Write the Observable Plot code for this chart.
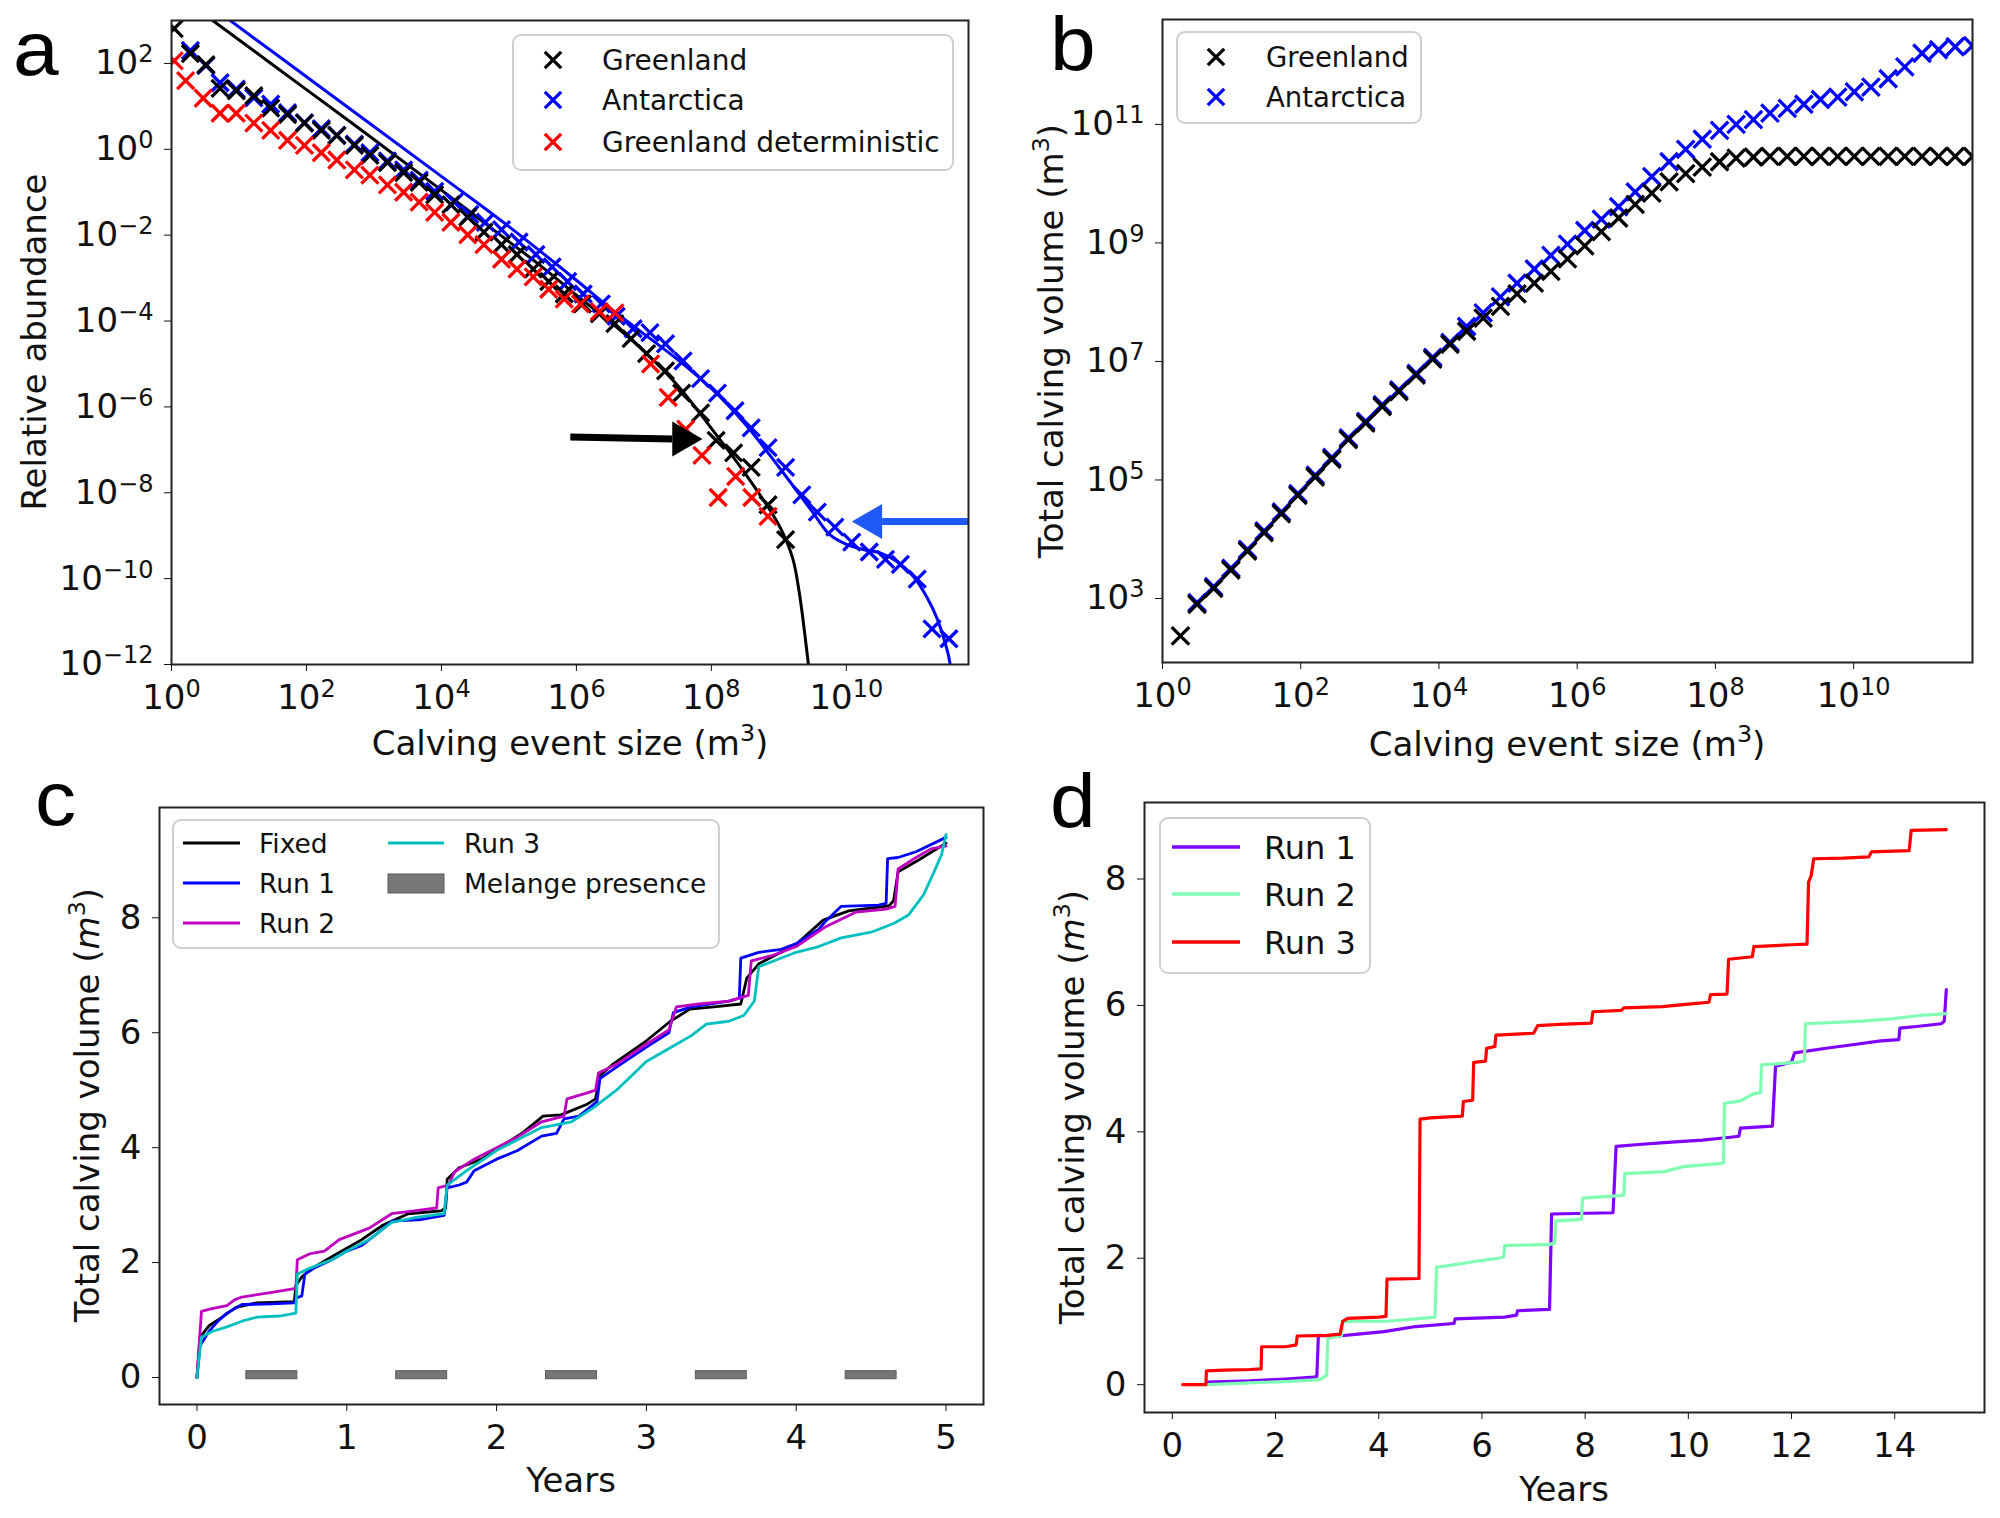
<!DOCTYPE html>
<html><head><meta charset="utf-8">
<script src="https://cdn.jsdelivr.net/npm/d3@7"></script>
<script src="https://cdn.jsdelivr.net/npm/@observablehq/plot@0.6"></script>
<style>
body{margin:0;background:#fff;}
#fig{position:relative;width:2000px;height:1518px;background:#fff;font-family:"DejaVu Sans",sans-serif;}
</style></head><body><div id="fig"></div>
<script>
// ---------------- Panel a: relative abundance (log10 values) ----------------
const aGreenlandLogX = [0.04,0.28,0.51,0.72,0.96,1.22,1.47,1.72,1.97,2.22,2.45,2.71,2.94,3.20,3.44,3.67,3.90,4.14,4.39,4.63,4.89,5.12,5.36,5.59,5.82,6.09,6.34,6.57,6.81,7.04,7.32,7.56,7.84,8.07,8.33,8.59,8.84,9.10];
const aGreenlandLogY = [2.81,2.23,1.97,1.42,1.36,1.25,0.96,0.81,0.61,0.44,0.32,0.09,-0.14,-0.31,-0.54,-0.77,-1.06,-1.29,-1.58,-1.93,-2.22,-2.45,-2.79,-3.08,-3.37,-3.60,-3.83,-4.06,-4.41,-4.76,-5.16,-5.68,-6.14,-6.78,-7.07,-7.41,-8.28,-9.09];
const aAntLogX = [0.28,0.51,0.72,0.96,1.22,1.47,1.72,1.97,2.22,2.45,2.71,2.94,3.20,3.44,3.67,3.90,4.19,4.42,4.65,4.89,5.15,5.40,5.64,5.87,6.10,6.37,6.59,6.84,7.09,7.32,7.58,7.84,8.09,8.35,8.59,8.84,9.10,9.34,9.57,9.83,10.08,10.34,10.58,10.80,11.05,11.27,11.52];
const aAntLogY = [2.30,1.95,1.55,1.40,1.20,1.05,0.85,0.62,0.48,0.33,0.12,-0.08,-0.27,-0.48,-0.72,-0.98,-1.23,-1.52,-1.70,-1.87,-2.16,-2.45,-2.74,-3.08,-3.37,-3.60,-3.89,-4.18,-4.27,-4.53,-4.93,-5.34,-5.68,-6.09,-6.49,-6.95,-7.41,-8.05,-8.45,-8.80,-9.15,-9.38,-9.55,-9.67,-10.01,-11.17,-11.40];
const aDetLogX = [0.04,0.21,0.47,0.72,0.96,1.22,1.47,1.72,1.97,2.22,2.45,2.71,2.94,3.20,3.44,3.67,3.90,4.14,4.39,4.63,4.89,5.12,5.36,5.59,5.82,6.06,6.34,6.57,7.10,7.36,7.62,7.86,8.10,8.36,8.60,8.84];
const aDetLogY = [2.06,1.60,1.19,0.84,0.84,0.61,0.44,0.21,0.09,-0.08,-0.25,-0.48,-0.60,-0.83,-1.00,-1.23,-1.47,-1.70,-1.99,-2.22,-2.56,-2.79,-2.97,-3.26,-3.49,-3.60,-3.78,-3.81,-5.00,-5.78,-6.52,-7.13,-8.11,-7.62,-8.11,-8.55];
const aFitGreenlandLogX = [0.61,2,3,4,5,5.5,6,6.5,7,7.5,8,8.5,9,9.2,9.3,9.4,9.46];
const aFitGreenlandLogY = [3.0,1.39,0.23,-0.95,-2.15,-2.75,-3.40,-4.02,-4.70,-5.50,-6.50,-7.55,-8.75,-9.50,-10.30,-11.50,-12.30];
const aFitAntLogX = [0.87,2,4,5,6,6.5,7,7.5,8,8.5,9,9.5,9.75,10,10.25,10.5,10.75,11,11.2,11.35,11.5,11.57];
const aFitAntLogY = [3.0,1.69,-0.63,-1.80,-3.05,-3.70,-4.30,-4.90,-5.57,-6.40,-7.40,-8.45,-8.97,-9.20,-9.32,-9.40,-9.60,-9.96,-10.45,-10.95,-11.70,-12.30];
const aArrowTailLogX = [5.91, 12.1];
const aArrowTailLogY = [-6.70, -8.67];
const aArrowBaseLogX = [7.42, 10.53];
const aArrowHeadLogY = [-6.75, -8.67];
const aArrowColor = ["#000000", "#1f5af6"];
const aArrowRotate = [90, -90];
const aXDomainExp = [0, 11.81];
const aYDomainExp = [-12, 3];
const aXTickExp = [0, 2, 4, 6, 8, 10];
const aYTickExp = [-12, -10, -8, -6, -4, -2, 0, 2];
const aLegendNames = ["Greenland", "Antarctica", "Greenland deterministic"];
const aLegendColors = ["#000000", "#0000ff", "#ff0000"];

// ---------------- Panel b: total calving volume (log10 values) ----------------
const bGreenlandLogX = [0.26,0.50,0.74,0.99,1.23,1.47,1.72,1.96,2.21,2.45,2.69,2.94,3.18,3.42,3.67,3.91,4.16,4.40,4.64,4.89,5.13,5.38,5.62,5.86,6.11,6.35,6.60,6.84,7.08,7.33,7.57,7.81,8.06,8.30,8.55,8.79,9.04,9.28,9.52,9.77,10.01,10.25,10.50,10.74,10.99,11.23,11.47,11.72];
const bGreenlandLogY = [2.37,2.90,3.17,3.48,3.80,4.11,4.43,4.74,5.05,5.35,5.68,5.96,6.24,6.49,6.77,7.04,7.29,7.51,7.73,7.93,8.14,8.32,8.52,8.73,8.95,9.19,9.42,9.65,9.84,10.03,10.17,10.28,10.37,10.43,10.45,10.46,10.46,10.46,10.46,10.46,10.46,10.46,10.46,10.46,10.46,10.46,10.46,10.46];
const bAntLogX = [0.50,0.74,0.99,1.23,1.47,1.72,1.96,2.21,2.45,2.69,2.94,3.18,3.42,3.67,3.91,4.16,4.40,4.64,4.89,5.13,5.38,5.62,5.86,6.11,6.35,6.60,6.84,7.08,7.33,7.57,7.81,8.06,8.30,8.55,8.79,9.04,9.28,9.52,9.77,10.01,10.25,10.50,10.74,10.99,11.23,11.47,11.72];
const bAntLogY = [2.93,3.20,3.51,3.83,4.14,4.46,4.77,5.08,5.38,5.71,5.99,6.27,6.52,6.80,7.07,7.32,7.59,7.82,8.09,8.32,8.56,8.79,8.98,9.21,9.40,9.61,9.86,10.12,10.37,10.58,10.75,10.90,11.00,11.08,11.19,11.27,11.34,11.42,11.46,11.55,11.63,11.77,11.97,12.20,12.26,12.31,12.33];
const bXDomainExp = [0, 11.72];
const bYDomainExp = [1.92, 12.77];
const bXTickExp = [0, 2, 4, 6, 8, 10];
const bYTickExp = [3, 5, 7, 9, 11];
const bLegendNames = ["Greenland", "Antarctica"];
const bLegendColors = ["#000000", "#0000ff"];

// ---------------- Panel c: cumulative calving volume, 5 years ----------------
const cFixed = [[0,0],[0.02,0.7],[0.08,0.9],[0.14,1.0],[0.26,1.22],[0.4,1.3],[0.65,1.32],[0.66,1.6],[0.7,1.75],[0.77,1.9],[0.9,2.1],[1.0,2.25],[1.1,2.4],[1.24,2.65],[1.41,2.85],[1.63,2.9],[1.66,2.95],[1.67,3.45],[1.75,3.65],[1.9,3.8],[2.0,3.97],[2.18,4.27],[2.31,4.55],[2.43,4.57],[2.6,4.75],[2.66,4.85],[2.69,5.25],[2.77,5.44],[3.0,5.86],[3.16,6.2],[3.29,6.41],[3.45,6.45],[3.63,6.5],[3.67,6.95],[3.75,7.2],[4.0,7.54],[4.18,7.96],[4.35,8.12],[4.62,8.21],[4.65,8.3],[4.68,8.8],[4.82,9.01],[5.0,9.3]];
const cRun1 = [[0,0],[0.02,0.55],[0.08,0.8],[0.14,0.98],[0.2,1.12],[0.3,1.27],[0.5,1.28],[0.65,1.3],[0.66,1.38],[0.7,1.42],[0.72,1.8],[0.78,1.9],[0.9,2.05],[1.0,2.2],[1.1,2.3],[1.2,2.5],[1.3,2.72],[1.5,2.75],[1.65,2.82],[1.67,3.3],[1.75,3.35],[1.8,3.4],[1.85,3.6],[2.0,3.8],[2.14,3.95],[2.3,4.2],[2.4,4.25],[2.45,4.5],[2.55,4.55],[2.67,4.8],[2.69,5.2],[2.8,5.4],[3.0,5.75],[3.15,6.0],[3.18,6.35],[3.3,6.45],[3.55,6.55],[3.62,6.6],[3.63,7.3],[3.75,7.4],[3.9,7.45],[4.0,7.55],[4.15,7.8],[4.2,7.95],[4.3,8.2],[4.55,8.22],[4.6,8.25],[4.61,9.03],[4.68,9.05],[4.8,9.15],[5.0,9.4]];
const cRun2 = [[0,0],[0.03,1.15],[0.1,1.2],[0.2,1.25],[0.25,1.35],[0.3,1.4],[0.5,1.48],[0.66,1.55],[0.67,2.05],[0.75,2.15],[0.85,2.2],[0.95,2.4],[1.05,2.5],[1.15,2.6],[1.3,2.85],[1.45,2.9],[1.6,2.95],[1.61,3.3],[1.68,3.35],[1.72,3.58],[1.85,3.8],[2.0,4.0],[2.15,4.2],[2.3,4.45],[2.45,4.55],[2.47,4.85],[2.6,4.95],[2.66,5.0],[2.68,5.3],[2.8,5.45],[3.0,5.8],[3.15,6.05],[3.2,6.45],[3.35,6.5],[3.55,6.55],[3.68,6.65],[3.7,7.25],[3.85,7.35],[4.0,7.5],[4.2,7.85],[4.4,8.1],[4.6,8.15],[4.66,8.2],[4.68,8.85],[4.8,9.05],[4.9,9.2],[5.0,9.25]];
const cRun3 = [[0,0],[0.03,0.7],[0.1,0.8],[0.2,0.88],[0.3,0.98],[0.4,1.05],[0.55,1.07],[0.66,1.12],[0.67,1.8],[0.75,1.9],[0.9,2.05],[1.0,2.2],[1.15,2.4],[1.3,2.7],[1.45,2.78],[1.65,2.85],[1.67,3.35],[1.8,3.6],[2.0,3.95],[2.15,4.15],[2.3,4.35],[2.5,4.45],[2.65,4.7],[2.8,5.0],[3.0,5.5],[3.2,5.8],[3.3,5.95],[3.4,6.15],[3.55,6.2],[3.65,6.3],[3.72,6.55],[3.75,7.15],[3.9,7.3],[4.0,7.4],[4.15,7.5],[4.3,7.65],[4.5,7.75],[4.65,7.9],[4.75,8.05],[4.85,8.4],[4.92,8.8],[4.97,9.1],[5.0,9.45]];
const cMelangeStart = [0.33, 1.33, 2.33, 3.33, 4.33];
const cMelangeEnd = [0.67, 1.67, 2.67, 3.67, 4.67];
const cMelangeY = [-0.03, 0.11];
const cXDomain = [-0.25, 5.25];
const cYDomain = [-0.47, 9.92];
const cXTicks = [0, 1, 2, 3, 4, 5];
const cYTicks = [0, 2, 4, 6, 8];
const cLegendNames = ["Fixed", "Run 1", "Run 2", "Run 3", "Melange presence"];
const cColors = ["#000000", "#0000ff", "#bf00bf", "#00bfbf", "#777777"];

// ---------------- Panel d: cumulative calving volume, 15 years ----------------
const dRun1 = [[0.67,0.04],[1.5,0.06],[2.2,0.09],[2.74,0.12],[2.8,0.13],[2.83,0.78],[3.23,0.77],[3.6,0.8],[4.1,0.84],[4.72,0.92],[5.33,0.96],[5.46,0.97],[5.48,1.04],[6.44,1.07],[6.67,1.1],[6.69,1.17],[7.31,1.19],[7.35,2.7],[8.54,2.72],[8.6,3.77],[9.04,3.8],[9.53,3.83],[10.27,3.87],[10.77,3.91],[10.98,3.93],[11.01,4.06],[11.63,4.09],[11.69,5.04],[12.0,5.1],[12.06,5.25],[12.74,5.33],[13.11,5.37],[13.73,5.44],[14.08,5.46],[14.1,5.64],[14.47,5.67],[14.9,5.71],[14.96,5.75],[15.0,6.25]];
const dRun2 = [[0.7,0.0],[1.5,0.03],[2.2,0.05],[2.86,0.08],[2.99,0.15],[3.01,0.73],[3.23,0.77],[3.28,0.78],[3.3,1.0],[4.1,1.0],[4.72,1.04],[5.09,1.07],[5.12,1.86],[5.33,1.88],[5.95,1.96],[6.32,2.0],[6.42,2.02],[6.44,2.2],[7.31,2.22],[7.41,2.24],[7.43,2.59],[7.86,2.61],[7.93,2.62],[7.95,2.95],[8.67,2.99],[8.75,3.0],[8.77,3.34],[9.53,3.37],[9.9,3.45],[10.64,3.5],[10.68,3.51],[10.7,4.45],[11.01,4.49],[11.26,4.6],[11.4,4.62],[11.42,5.06],[12.12,5.1],[12.25,5.12],[12.27,5.71],[13.36,5.75],[13.98,5.79],[14.47,5.84],[15.0,5.87]];
const dRun3 = [[0.2,0],[0.65,0],[0.66,0.22],[1.0,0.23],[1.5,0.24],[1.72,0.25],[1.73,0.6],[2.2,0.6],[2.4,0.63],[2.42,0.77],[3.0,0.78],[3.25,0.8],[3.3,1.0],[3.4,1.05],[4.0,1.07],[4.14,1.08],[4.16,1.67],[4.78,1.68],[4.8,4.2],[5.0,4.22],[5.62,4.25],[5.64,4.48],[5.82,4.5],[5.84,5.1],[6.07,5.12],[6.09,5.32],[6.25,5.35],[6.27,5.53],[7.0,5.56],[7.08,5.68],[7.5,5.7],[8.12,5.72],[8.15,5.9],[8.7,5.92],[8.75,5.96],[9.5,5.98],[10.0,6.02],[10.4,6.05],[10.43,6.17],[10.75,6.18],[10.78,6.73],[11.24,6.77],[11.27,6.93],[12.0,6.96],[12.3,6.97],[12.33,7.95],[12.38,8.05],[12.43,8.32],[13.0,8.33],[13.5,8.35],[13.55,8.43],[14.28,8.45],[14.32,8.77],[15.0,8.78]];
const dXDomain = [-0.54, 15.74];
const dYDomain = [-0.44, 9.21];
const dXTicks = [0, 2, 4, 6, 8, 10, 12, 14];
const dYTicks = [0, 2, 4, 6, 8];
const dLegendNames = ["Run 1", "Run 2", "Run 3"];
const dColors = ["#8000ff", "#80ffb4", "#ff0000"];

// ---------------- helpers ----------------
const fig = document.getElementById("fig");
const pts = (lx, ly) => lx.map((v, i) => ({x: 10 ** v, y: 10 ** ly[i]}));
const pairs = (arr) => arr.map(([x, y]) => ({x, y}));
const fmtPow = d => { const e = Math.round(Math.log10(d)); return "10^" + (e < 0 ? "\u2212" + (-e) : String(e)); };
const baseStyle = {fontSize: "34px", fontFamily: "'DejaVu Sans', sans-serif", color: "#111", background: "transparent", overflow: "visible"};
function place(svg, left, top) {
  svg.style.position = "absolute"; svg.style.left = left + "px"; svg.style.top = top + "px"; svg.style.maxWidth = "none";
  d3.select(svg).selectAll("text").each(function () {
    const m = /^10\^(.+)$/.exec(this.textContent);
    if (m) { const s = d3.select(this); s.text("10"); s.append("tspan").attr("font-size", "24px").attr("dy", "-12").text(m[1]); }
  });
  fig.appendChild(svg);
}
const frame = () => Plot.frame({stroke: "#222", strokeWidth: 2});

// ---------------- panel a ----------------
const arrows = aArrowColor.map((c, i) => ({x1: 10 ** aArrowTailLogX[i], y1: 10 ** aArrowTailLogY[i], x2: 10 ** aArrowBaseLogX[i], y2: 10 ** aArrowHeadLogY[i], c, rot: aArrowRotate[i]}));
const arrowMarks = arrows.flatMap(a => [
  Plot.link([a], {x1: "x1", y1: "y1", x2: "x2", y2: "y2", stroke: a.c, strokeWidth: 7, clip: true}),
  Plot.dot([a], {x: "x2", y: "y2", symbol: "triangle", r: 13, fill: a.c, stroke: "none", rotate: a.rot, dx: a.rot > 0 ? 10.1 : -10.1})
]);
const plotA = Plot.plot({
  width: 1000, height: 780, marginLeft: 171, marginRight: 32, marginTop: 20, marginBottom: 116,
  style: baseStyle,
  x: {type: "log", domain: aXDomainExp.map(e => 10 ** e), ticks: aXTickExp.map(e => 10 ** e), tickFormat: fmtPow, tickSize: 7, tickPadding: 13, label: null},
  y: {type: "log", domain: aYDomainExp.map(e => 10 ** e), ticks: aYTickExp.map(e => 10 ** e), tickFormat: fmtPow, tickSize: 7, tickPadding: 11, label: null},
  marks: [
    Plot.line(pts(aFitAntLogX, aFitAntLogY), {x: "x", y: "y", stroke: "#0000ff", strokeWidth: 3, curve: "catmull-rom", clip: true}),
    Plot.line(pts(aFitGreenlandLogX, aFitGreenlandLogY), {x: "x", y: "y", stroke: "#000", strokeWidth: 3, curve: "catmull-rom", clip: true}),
    Plot.dot(pts(aAntLogX, aAntLogY), {x: "x", y: "y", symbol: "times", r: 7.8, stroke: "#0000ff", strokeWidth: 3.3, clip: true}),
    Plot.dot(pts(aGreenlandLogX, aGreenlandLogY), {x: "x", y: "y", symbol: "times", r: 7.8, stroke: "#000", strokeWidth: 3.3, clip: true}),
    Plot.dot(pts(aDetLogX, aDetLogY), {x: "x", y: "y", symbol: "times", r: 7.8, stroke: "#ff0000", strokeWidth: 3.3, clip: true}),
    ...arrowMarks,
    frame()
  ]
});
place(plotA, 0, 0);

// ---------------- panel b ----------------
const plotB = Plot.plot({
  width: 1000, height: 780, marginLeft: 162, marginRight: 28, marginTop: 19, marginBottom: 118,
  style: baseStyle,
  x: {type: "log", domain: bXDomainExp.map(e => 10 ** e), ticks: bXTickExp.map(e => 10 ** e), tickFormat: fmtPow, tickSize: 7, tickPadding: 13, label: null},
  y: {type: "log", domain: bYDomainExp.map(e => 10 ** e), ticks: bYTickExp.map(e => 10 ** e), tickFormat: fmtPow, tickSize: 7, tickPadding: 11, label: null},
  marks: [
    Plot.dot(pts(bAntLogX, bAntLogY), {x: "x", y: "y", symbol: "times", r: 8, stroke: "#0000ff", strokeWidth: 3.3, clip: true}),
    Plot.dot(pts(bGreenlandLogX, bGreenlandLogY), {x: "x", y: "y", symbol: "times", r: 8, stroke: "#000", strokeWidth: 3.3, clip: true}),
    frame()
  ]
});
place(plotB, 1000, 0);

// ---------------- panel c ----------------
const melange = cMelangeStart.map((s, i) => ({x1: s, x2: cMelangeEnd[i]}));
const plotC = Plot.plot({
  width: 1000, height: 738, marginLeft: 159, marginRight: 17, marginTop: 27, marginBottom: 114,
  style: baseStyle,
  x: {domain: cXDomain, ticks: cXTicks, tickFormat: d => String(d), tickSize: 7, tickPadding: 13, label: null},
  y: {domain: cYDomain, ticks: cYTicks, tickFormat: d => String(d), tickSize: 7, tickPadding: 11, label: null},
  marks: [
    Plot.rect(melange, {x1: "x1", x2: "x2", y1: cMelangeY[0], y2: cMelangeY[1], fill: cColors[4], stroke: "#5a5a5a", strokeWidth: 1}),
    Plot.line(pairs(cFixed), {x: "x", y: "y", stroke: cColors[0], strokeWidth: 2.8}),
    Plot.line(pairs(cRun1), {x: "x", y: "y", stroke: cColors[1], strokeWidth: 2.8}),
    Plot.line(pairs(cRun2), {x: "x", y: "y", stroke: cColors[2], strokeWidth: 2.8}),
    Plot.line(pairs(cRun3), {x: "x", y: "y", stroke: cColors[3], strokeWidth: 2.8}),
    frame()
  ]
});
place(plotC, 0, 780);

// ---------------- panel d ----------------
const plotD = Plot.plot({
  width: 1000, height: 738, marginLeft: 144, marginRight: 16, marginTop: 22, marginBottom: 106,
  style: baseStyle,
  x: {domain: dXDomain, ticks: dXTicks, tickFormat: d => String(d), tickSize: 7, tickPadding: 13, label: null},
  y: {domain: dYDomain, ticks: dYTicks, tickFormat: d => String(d), tickSize: 7, tickPadding: 11, label: null},
  marks: [
    Plot.line(pairs(dRun1), {x: "x", y: "y", stroke: dColors[0], strokeWidth: 3.2}),
    Plot.line(pairs(dRun2), {x: "x", y: "y", stroke: dColors[1], strokeWidth: 3.2}),
    Plot.line(pairs(dRun3), {x: "x", y: "y", stroke: dColors[2], strokeWidth: 3.2}),
    frame()
  ]
});
place(plotD, 1000, 780);

// ---------------- overlay: panel letters, axis titles, legends ----------------
const ov = d3.create("svg").attr("width", 2000).attr("height", 1518)
  .style("position", "absolute").style("left", "0px").style("top", "0px")
  .attr("font-family", "'DejaVu Sans', sans-serif").attr("fill", "#111");
function rich(x, y, parts, size, rotate) {
  const t = ov.append("text").attr("x", x).attr("y", y).attr("font-size", size).attr("text-anchor", "middle");
  if (rotate) t.attr("transform", `rotate(${rotate},${x},${y})`);
  for (const [s, kind] of parts) {
    const sp = t.append("tspan").text(s);
    if (kind === "sup") sp.attr("font-size", size * 0.7).attr("dy", -size * 0.42);
    else if (kind === "down") sp.attr("dy", size * 0.42);
    else if (kind === "it") sp.attr("font-style", "italic");
  }
}
const volLabelIt = [["Total calving volume (", ""], ["m", "it"], ["3", "sup"], [")", "down"]];
const volLabel = [["Total calving volume (m", ""], ["3", "sup"], [")", "down"]];
const sizeLabel = [["Calving event size (m", ""], ["3", "sup"], [")", "down"]];
rich(46, 342, [["Relative abundance", ""]], 34, -90);
rich(570, 755, sizeLabel, 34);
rich(1063, 341, volLabel, 34, -90);
rich(1567, 756, sizeLabel, 34);
rich(99, 1105, volLabelIt, 34, -90);
rich(571, 1492, [["Years", ""]], 34);
rich(1084, 1107, volLabelIt, 34, -90);
rich(1564, 1501, [["Years", ""]], 34);

const letters = [["a", 13, 75], ["b", 1050, 70], ["c", 35, 825], ["d", 1050, 827]];
for (const [s, x, y] of letters) {
  ov.append("text").attr("transform", `translate(${x},${y}) scale(1.08,1)`).attr("font-family", "'Liberation Sans', Arial, sans-serif")
    .attr("font-size", 76).attr("fill", "#000").text(s);
}

function box(x0, y0, x1, y1) {
  ov.append("rect").attr("x", x0).attr("y", y0).attr("width", x1 - x0).attr("height", y1 - y0).attr("rx", 8)
    .attr("fill", "#fff").attr("fill-opacity", 0.8).attr("stroke", "#cfcfcf").attr("stroke-width", 2);
}
function xMark(cx, cy, color) {
  const r = 8.2;
  ov.append("path").attr("d", `M${cx - r},${cy - r}L${cx + r},${cy + r}M${cx - r},${cy + r}L${cx + r},${cy - r}`)
    .attr("stroke", color).attr("stroke-width", 3.3).attr("fill", "none");
}
function lineSw(x0, x1, y, color, w) {
  ov.append("line").attr("x1", x0).attr("x2", x1).attr("y1", y).attr("y2", y).attr("stroke", color).attr("stroke-width", w);
}
function ltext(x, y, s, size) {
  ov.append("text").attr("x", x).attr("y", y + size * 0.36).attr("font-size", size).text(s);
}
// a legend
box(513, 35, 953, 170);
[60, 100, 142].forEach((ry, i) => { xMark(553, ry, aLegendColors[i]); ltext(602, ry, aLegendNames[i], 28); });
// b legend
box(1177, 32, 1421, 123);
[57, 97].forEach((ry, i) => { xMark(1216, ry, bLegendColors[i]); ltext(1266, ry, bLegendNames[i], 27.5); });
// c legend
box(173, 820, 719, 948);
[843, 883, 923].forEach((ry, i) => { lineSw(183, 240, ry, cColors[i], 3.2); ltext(259, ry, cLegendNames[i], 26.5); });
lineSw(388, 444, 843, cColors[3], 3.2); ltext(464, 843, cLegendNames[3], 26.5);
ov.append("rect").attr("x", 388).attr("y", 874).attr("width", 56).attr("height", 19).attr("fill", cColors[4]).attr("stroke", "#5a5a5a").attr("stroke-width", 1);
ltext(464, 883, cLegendNames[4], 26.5);
// d legend
box(1160, 818, 1370, 973);
[847, 894, 942].forEach((ry, i) => { lineSw(1172, 1240, ry, dColors[i], 3.5); ltext(1264, ry, dLegendNames[i], 32); });

fig.appendChild(ov.node());
</script></body></html>
